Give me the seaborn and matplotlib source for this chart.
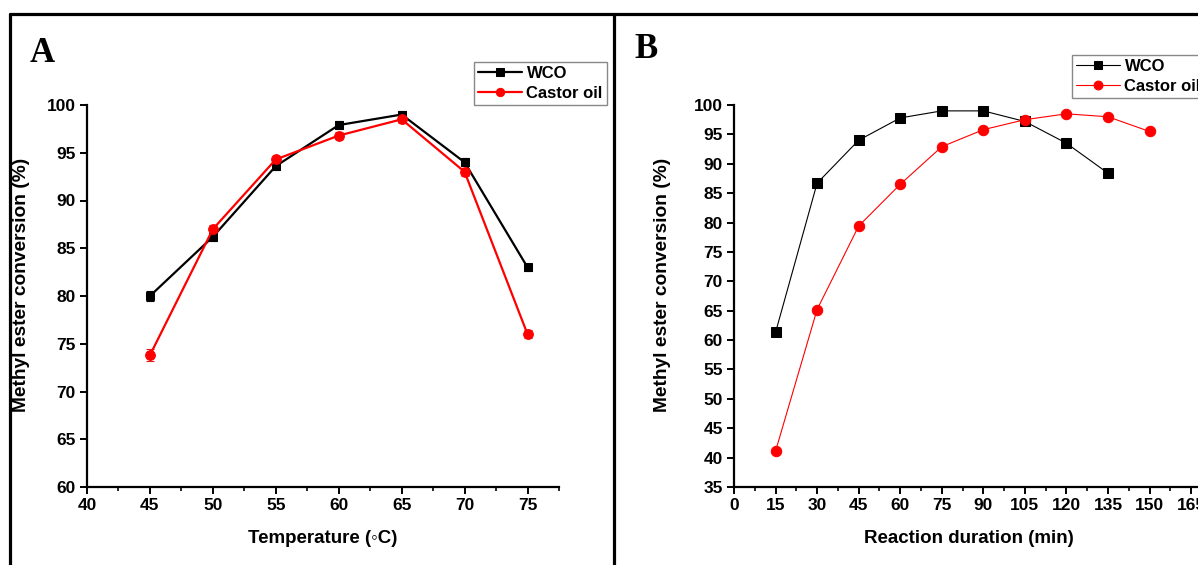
import numpy as np
import pandas as pd
import matplotlib
matplotlib.use("Agg")
import matplotlib.pyplot as plt
from matplotlib.lines import Line2D
from matplotlib.ticker import MultipleLocator
import seaborn as sns

# ---- data: panel A (temperature) ----
temp = [45, 50, 55, 60, 65, 70, 75]
wco_temp = [80.0, 86.2, 93.6, 97.9, 99.0, 94.0, 83.0]
wco_temp_err = [0.5, 0.4, 0.4, 0.4, 0.4, 0.4, 0.4]
castor_temp = [73.8, 87.0, 94.3, 96.8, 98.5, 93.0, 76.0]
castor_temp_err = [0.6, 0.4, 0.4, 0.4, 0.4, 0.4, 0.4]

# ---- data: panel B (reaction duration) ----
dur_wco = [15, 30, 45, 60, 75, 90, 105, 120, 135]
wco_dur = [61.3, 86.7, 94.0, 97.8, 99.0, 99.0, 97.2, 93.5, 88.4]
dur_castor = [15, 30, 45, 60, 75, 90, 105, 120, 135, 150]
castor_dur = [41.1, 65.2, 79.4, 86.5, 92.9, 95.8, 97.5, 98.5, 98.0, 95.5]

series_names = ["WCO", "Castor oil"]
xticks_A = [40, 45, 50, 55, 60, 65, 70, 75]
yticks_A = [60, 65, 70, 75, 80, 85, 90, 95, 100]
xticks_B = [0, 15, 30, 45, 60, 75, 90, 105, 120, 135, 150, 165]
yticks_B = [35, 40, 45, 50, 55, 60, 65, 70, 75, 80, 85, 90, 95, 100]

sns.set_theme(style="ticks")
plt.rcParams["font.family"] = ["Liberation Sans", "DejaVu Sans"]
plt.rcParams["font.weight"] = "bold"
plt.rcParams["axes.labelweight"] = "bold"
plt.rcParams["text.color"] = "black"
plt.rcParams["axes.labelcolor"] = "black"
plt.rcParams["xtick.color"] = "black"
plt.rcParams["ytick.color"] = "black"

W, H = 1198, 565
fig = plt.figure(figsize=(W / 100, H / 100), dpi=100)

def fx(px):
    return px / W

def fy(py):
    return 1 - py / H

wA = 559 - 87
wB = 2.770 * 172.5
axA = fig.add_axes([fx(87), fy(487), fx(wA), (487 - 105) / H])
axB = fig.add_axes([fx(734), fy(487), fx(wB), (487 - 105) / H])

# Panel A
dfA = pd.DataFrame({"x": temp * 2,
                    "y": wco_temp + castor_temp,
                    "s": [series_names[0]] * len(temp) + [series_names[1]] * len(temp)})
axA.errorbar(temp, wco_temp, yerr=wco_temp_err, fmt="none", ecolor="black",
             elinewidth=0.8, capsize=3, capthick=0.8, zorder=2)
axA.errorbar(temp, castor_temp, yerr=castor_temp_err, fmt="none", ecolor="#e02020",
             elinewidth=0.8, capsize=3, capthick=0.8, zorder=2)
sns.lineplot(data=dfA[dfA.s == "WCO"], x="x", y="y", ax=axA, color="black",
             marker="s", markersize=6, markeredgecolor="black", linewidth=1.6,
             label="WCO", zorder=3)
sns.lineplot(data=dfA[dfA.s == "Castor oil"], x="x", y="y", ax=axA, color="#ff0000",
             marker="o", markersize=7, markeredgecolor="#ff0000", linewidth=1.6,
             label="Castor oil", zorder=4)

# Panel B
dfBw = pd.DataFrame({"x": dur_wco, "y": wco_dur})
dfBc = pd.DataFrame({"x": dur_castor, "y": castor_dur})
sns.lineplot(data=dfBw, x="x", y="y", ax=axB, color="black", marker="s",
             markersize=6.5, markeredgecolor="black", linewidth=0.8, label="WCO", zorder=3)
sns.lineplot(data=dfBc, x="x", y="y", ax=axB, color="#ff0000", marker="o",
             markersize=7.5, markeredgecolor="#ff0000", linewidth=0.8, label="Castor oil", zorder=4)

for ax in (axA, axB):
    sns.despine(ax=ax)
    for sp in ("left", "bottom"):
        ax.spines[sp].set_linewidth(1.6)
        ax.spines[sp].set_color("black")
    ax.tick_params(axis="both", which="major", direction="out", length=5, width=1.4,
                   labelsize=12.5, colors="black", pad=3)
    ax.tick_params(axis="x", which="minor", direction="out", length=3, width=1.2, colors="black")
    ax.set_facecolor("white")

axA.set_xlim(40, 77.5)
axA.set_ylim(60, 100)
axA.set_xticks(xticks_A)
axA.set_yticks(yticks_A)
axA.xaxis.set_minor_locator(MultipleLocator(2.5))
axA.set_xlabel("Temperature (\u25e6C)", fontsize=13.5, fontweight="bold", labelpad=12)
axA.set_ylabel("Methyl ester conversion (%)", fontsize=13.8, fontweight="bold")
axA.yaxis.set_label_coords(-57 / wA, 0.53)

axB.set_xlim(0, 172.5)
axB.set_ylim(35, 100)
axB.set_xticks(xticks_B)
axB.set_yticks(yticks_B)
axB.xaxis.set_minor_locator(MultipleLocator(7.5))
axB.set_xlabel("Reaction duration (min)", fontsize=13.5, fontweight="bold", labelpad=12)
axB.xaxis.label.set_x((969 - 734) / wB)
axB.set_ylabel("Methyl ester conversion (%)", fontsize=13.8, fontweight="bold")
axB.yaxis.set_label_coords(-63 / wB, 0.53)

for ax in (axA, axB):
    for lab in ax.get_xticklabels() + ax.get_yticklabels():
        lab.set_fontweight("bold")
        lab.set_color("black")

def make_legend(ax, x0, y0):
    leg = ax.legend(loc="upper left", bbox_to_anchor=(fx(x0), fy(y0)),
                    bbox_transform=fig.transFigure, frameon=True, fancybox=False,
                    edgecolor="#888888", framealpha=1, borderpad=0.25,
                    handlelength=2.6, handletextpad=0.3, labelspacing=0.3,
                    borderaxespad=0, markerscale=0.85,
                    prop={"size": 12, "weight": "bold"})
    leg.get_frame().set_linewidth(1.0)
    for t in leg.get_texts():
        t.set_color("black")
    return leg

make_legend(axA, 474, 62)
make_legend(axB, 1072, 55)

# panel letters
fig.text(fx(30), fy(62), "A", fontsize=25, fontweight="bold",
         family=["Liberation Serif", "DejaVu Serif"], ha="left", va="baseline")
fig.text(fx(634), fy(58), "B", fontsize=25, fontweight="bold",
         family=["Liberation Serif", "DejaVu Serif"], ha="left", va="baseline")

# outer frame lines
lw = 2.3
fig.add_artist(Line2D([fx(10), 1.0], [fy(13.5), fy(13.5)], color="black", lw=lw,
                      transform=fig.transFigure))
fig.add_artist(Line2D([fx(10), fx(10)], [0, fy(13.5)], color="black", lw=lw,
                      transform=fig.transFigure))
fig.add_artist(Line2D([fx(614), fx(614)], [0, fy(13.5)], color="black", lw=lw,
                      transform=fig.transFigure))

fig.savefig("out.png", dpi=100, facecolor="white")
